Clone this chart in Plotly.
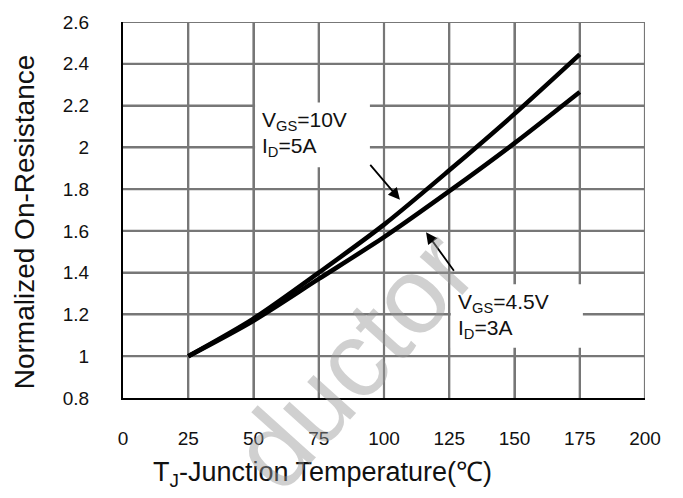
import plotly.graph_objects as go

# ---- data ----
temp_c = [25, 50, 75, 100, 125, 150, 175]
r_vgs10 = [1.00, 1.18, 1.40, 1.63, 1.89, 2.16, 2.445]
r_vgs45 = [1.00, 1.17, 1.37, 1.57, 1.79, 2.02, 2.265]

x_ticks = [0, 25, 50, 75, 100, 125, 150, 175, 200]
y_ticks = [0.8, 1.0, 1.2, 1.4, 1.6, 1.8, 2.0, 2.2, 2.4, 2.6]
y_ticktext = ["0.8", "1", "1.2", "1.4", "1.6", "1.8", "2", "2.2", "2.4", "2.6"]

label_10v = ["V<sub>GS</sub>=10V", "I<sub>D</sub>=5A"]
label_45v = ["V<sub>GS</sub>=4.5V", "I<sub>D</sub>=3A"]

FONT = "Liberation Sans, Arial, sans-serif"
TXT = "#111111"
GRID = "#777777"

x_lo, x_hi = x_ticks[0], x_ticks[-1]
y_lo, y_hi = y_ticks[0], y_ticks[-1]

fig = go.Figure()
# grid: one line trace per tick value
for xv in x_ticks[1:]:
    fig.add_trace(go.Scatter(x=[xv, xv], y=[y_lo, y_hi], mode="lines",
                             line=dict(color=GRID, width=2.2),
                             showlegend=False, hoverinfo="skip"))
for yv in y_ticks[1:]:
    fig.add_trace(go.Scatter(x=[x_lo, x_hi], y=[yv, yv], mode="lines",
                             line=dict(color=GRID, width=2.2),
                             showlegend=False, hoverinfo="skip"))
for ys in (r_vgs10, r_vgs45):
    fig.add_trace(go.Scatter(
        x=temp_c, y=ys, mode="lines",
        line=dict(color="black", width=4.5, shape="spline", smoothing=0.8),
        showlegend=False, hoverinfo="skip"))

# white label boxes (cover the grid)
fig.add_shape(type="rect", xref="x", yref="y", x0=50.6, x1=94.6, y0=1.905, y1=2.215,
              fillcolor="white", line=dict(width=0), layer="above")
fig.add_shape(type="rect", xref="x", yref="y", x0=125.6, x1=176.2, y0=1.04, y1=1.345,
              fillcolor="white", line=dict(width=0), layer="above")

ann = []
for txt, yy in zip(label_10v, [2.125, 2.0]):
    ann.append(dict(x=52.5, y=yy, xref="x", yref="y", text=txt, showarrow=False,
                    xanchor="left", yanchor="middle",
                    font=dict(family=FONT, size=21, color=TXT)))
for txt, yy in zip(label_45v, [1.255, 1.13]):
    ann.append(dict(x=127.6, y=yy, xref="x", yref="y", text=txt, showarrow=False,
                    xanchor="left", yanchor="middle",
                    font=dict(family=FONT, size=21, color=TXT)))
ann.append(dict(x=106.1, y=1.749, ax=94.25, ay=1.923, xref="x", yref="y",
                axref="x", ayref="y", text="", showarrow=True,
                arrowhead=2, arrowsize=1.3, arrowwidth=1.8, arrowcolor="black"))
ann.append(dict(x=116.1, y=1.594, ax=127.2, ay=1.402, xref="x", yref="y",
                axref="x", ayref="y", text="", showarrow=True,
                arrowhead=2, arrowsize=1.3, arrowwidth=1.8, arrowcolor="black"))
ann.append(dict(x=-0.1897, y=0.47, xref="paper", yref="paper",
                text="Normalized On-Resistance", textangle=-90, showarrow=False,
                xanchor="center", yanchor="middle",
                font=dict(family=FONT, size=28, color=TXT)))
ann.append(dict(x=0.383, y=-0.201, xref="paper", yref="paper",
                text="T<sub>J</sub>-Junction Temperature(℃)", showarrow=False,
                xanchor="center", yanchor="middle",
                font=dict(family=FONT, size=27, color=TXT)))
ann.append(dict(x=0.44, y=0.10, xref="paper", yref="paper", text="ductor",
                textangle=-48, showarrow=False, xanchor="center", yanchor="middle",
                font=dict(family=FONT, size=108, color="rgba(150,150,150,0.45)")))

fig.update_layout(
    width=683, height=498,
    margin=dict(l=123, r=38, t=15, b=100),
    paper_bgcolor="white", plot_bgcolor="white",
    annotations=ann,
    xaxis=dict(range=[x_lo, x_hi], tickmode="array", tickvals=x_ticks,
               showgrid=True, gridcolor=GRID, gridwidth=2,
               showline=True, linecolor="black", linewidth=2,
               zeroline=False, ticks="outside", ticklen=22,
               tickcolor="rgba(0,0,0,0)",
               tickfont=dict(family=FONT, size=19, color=TXT)),
    yaxis=dict(range=[y_lo, y_hi], tickmode="array", tickvals=y_ticks,
               ticktext=y_ticktext, showgrid=True, gridcolor=GRID, gridwidth=2,
               showline=True, linecolor="black", linewidth=2, zeroline=False,
               ticks="outside", ticklen=28, tickcolor="rgba(0,0,0,0)",
               tickfont=dict(family=FONT, size=19, color=TXT)),
)

fig.write_html("out.html")
